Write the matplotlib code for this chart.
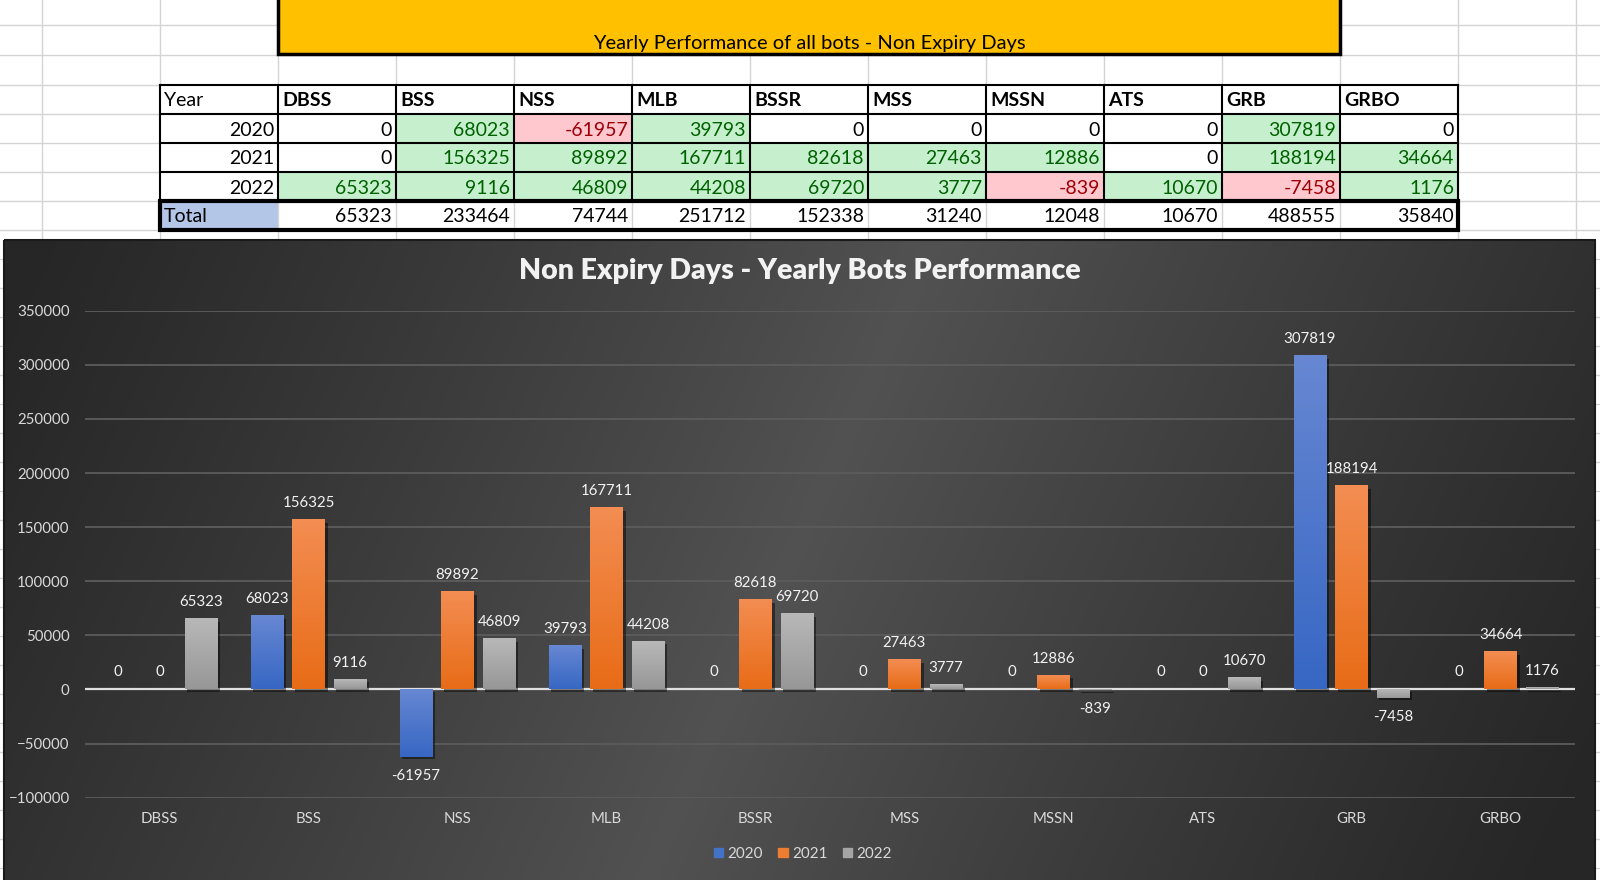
import numpy as np
import matplotlib
matplotlib.use('Agg')
import matplotlib.pyplot as plt
from matplotlib.patches import Rectangle
import matplotlib.patheffects as pe

plt.rcParams['font.family'] = ['Lato', 'DejaVu Sans']

bots = ['DBSS', 'BSS', 'NSS', 'MLB', 'BSSR', 'MSS', 'MSSN', 'ATS', 'GRB', 'GRBO']
years = ['2020', '2021', '2022']
perf_2020 = [0, 68023, -61957, 39793, 0, 0, 0, 0, 307819, 0]
perf_2021 = [0, 156325, 89892, 167711, 82618, 27463, 12886, 0, 188194, 34664]
perf_2022 = [65323, 9116, 46809, 44208, 69720, 3777, -839, 10670, -7458, 1176]
totals = [65323, 233464, 74744, 251712, 152338, 31240, 12048, 10670, 488555, 35840]

series = [perf_2020, perf_2021, perf_2022]
bar_top = ['#6787d2', '#f38d52', '#b8b8b8']
bar_bot = ['#3767c4', '#e86c17', '#979797']
bar_flat = ['#4472c4', '#ed7d31', '#a5a5a5']

fig = plt.figure(figsize=(16, 8.8), dpi=100)

# ===== 背景: 表格区域 (像素坐标) =====
bg = fig.add_axes([0, 0, 1, 1])
bg.set_xlim(0, 1600)
bg.set_ylim(880, 0)
bg.axis('off')

col_edges = [42 + 118 * k for k in range(14)]
row_edges = [25, 55, 85, 114, 143, 172, 201, 230] + list(range(259, 880, 29))
for cx in col_edges:
    bg.plot([cx, cx], [0, 880], color='#d4d4d4', lw=1, zorder=1)
for ry in row_edges:
    bg.plot([0, 1600], [ry, ry], color='#d4d4d4', lw=1, zorder=1)

# 橙色标题框
bg.add_patch(Rectangle((278, -5), 1062, 59, fc='#ffc000', ec='black', lw=2.5, zorder=2))
bg.text(809, 44, 'Yearly Performance of all bots - Non Expiry Days', ha='center', va='center',
        fontsize=14.5, color='black', zorder=3)

tcols = col_edges[1:13]   # 160 .. 1458
trows = [85, 114, 143, 172, 201, 230]
cw = 118
fs_tab = 14

# 表头
bg.text(tcols[0] + 4, 101, 'Year', ha='left', va='center', fontsize=fs_tab, zorder=4)
for j, b in enumerate(bots):
    bg.text(tcols[j + 1] + 4, 101, b, ha='left', va='center', fontsize=fs_tab,
            fontweight='bold', zorder=4)

# 数据行
for i, (yr, vals) in enumerate(zip(years, series)):
    y0 = trows[i + 1]
    bg.add_patch(Rectangle((tcols[0], y0), cw, 29, fc='white', ec='none', zorder=2))
    bg.text(tcols[1] - 4, y0 + 16, yr, ha='right', va='center', fontsize=fs_tab, zorder=4)
    for j, v in enumerate(vals):
        if v > 0:
            fc, tc = '#c6efce', '#006100'
        elif v < 0:
            fc, tc = '#ffc7ce', '#9c0006'
        else:
            fc, tc = 'white', 'black'
        bg.add_patch(Rectangle((tcols[j + 1], y0), cw, 29, fc=fc, ec='none', zorder=2))
        bg.text(tcols[j + 2] - 4, y0 + 16, str(v), ha='right', va='center', fontsize=fs_tab,
                color=tc, zorder=4)

bg.add_patch(Rectangle((tcols[0], 85), cw * 11, 29, fc='white', ec='none', zorder=2))
for ry in trows[:5]:
    bg.plot([tcols[0], tcols[-1]], [ry, ry], color='black', lw=1.5, zorder=3)
for cx in tcols:
    bg.plot([cx, cx], [85, 201], color='black', lw=1.5, zorder=3)

# 合计行
bg.add_patch(Rectangle((tcols[0], 201), cw * 11, 29, fc='white', ec='none', zorder=2))
bg.add_patch(Rectangle((tcols[0], 201), cw, 29, fc='#b4c6e7', ec='none', zorder=2))
for cx in tcols[1:-1]:
    bg.plot([cx, cx], [201, 230], color='#d4d4d4', lw=1, zorder=2.5)
bg.add_patch(Rectangle((tcols[0], 201), cw * 11, 29, fc='none', ec='black', lw=3, zorder=3.5))
bg.text(tcols[0] + 4, 217, 'Total', ha='left', va='center', fontsize=fs_tab, zorder=4)
for j, v in enumerate(totals):
    bg.text(tcols[j + 2] - 4, 217, str(v), ha='right', va='center', fontsize=fs_tab, zorder=4)

# 图表背景渐变
gx = np.linspace(4, 1595, 400)
gy = np.linspace(240, 880, 160)
GX, GY = np.meshgrid(gx, gy)
t = ((GX - 790) + 0.45 * (GY - 560)) / 900
v = 1 - np.clip(np.abs(t), 0, 1)
g = 0.15 + 0.17 * v ** 1.1
bg.imshow(np.dstack([g, g, g]), extent=(4, 1595, 880, 240), aspect='auto', zorder=5,
          interpolation='bilinear')
bg.add_patch(Rectangle((4, 240), 1591, 645, fc='none', ec='#1a1a1a', lw=1.5, zorder=5.5))
bg.set_xlim(0, 1600)
bg.set_ylim(880, 0)

fig.text(800 / 1600, 1 - 271 / 880, 'Non Expiry Days - Yearly Bots Performance',
         ha='center', va='center', fontsize=20.5, fontweight='heavy', color='#f2f2f2')

# ===== 柱状图 =====
ax = fig.add_axes([85 / 1600, (880 - 797.7) / 880, 1490 / 1600, (797.7 - 310.7) / 880])
ax.set_facecolor('none')
x = np.arange(len(bots))
step = 0.279
width = 0.22

ax.set_yticks(np.arange(-100000, 350001, 50000))
ax.yaxis.grid(True, color='#5c5c5c', lw=1.3, zorder=0)
ax.set_axisbelow(True)
ax.axhline(0, color='#e0e0e0', lw=1.6, zorder=1)

for k, vals in enumerate(series):
    pos = x + (k - 1) * step
    bars = ax.bar(pos, vals, width, color=bar_flat[k], edgecolor='none', zorder=2,
                  label=years[k],
                  path_effects=[pe.SimplePatchShadow(offset=(2, -2), shadow_rgbFace='black',
                                                     alpha=0.45), pe.Normal()])
    grad = np.linspace(0, 1, 64)[:, None, None]
    c0 = np.array(matplotlib.colors.to_rgb(bar_top[k]))
    c1 = np.array(matplotlib.colors.to_rgb(bar_bot[k]))
    img = c0 + (c1 - c0) * grad
    for p, val in zip(bars.patches, vals):
        if val == 0:
            continue
        lo, hi = sorted([p.get_y(), p.get_y() + p.get_height()])
        ax.imshow(img, extent=(p.get_x(), p.get_x() + p.get_width(), lo, hi),
                  aspect='auto', origin='upper', zorder=2.1, interpolation='bilinear')
    for xi, val in zip(pos, vals):
        off = -19 if val < 0 else 17
        ax.annotate(str(val), (xi, val), xytext=(0, off), textcoords='offset pixels',
                    ha='center', va='center', fontsize=10.8, color='#f2f2f2', zorder=4)

ax.set_xlim(-0.5, len(bots) - 0.5)
ax.set_ylim(-100000, 350000)
ax.set_xticks(x)
ax.set_xticklabels(bots)
ax.tick_params(axis='y', length=0, colors='#d9d9d9', labelsize=10.8, pad=11)
ax.tick_params(axis='x', length=0, colors='#d9d9d9', labelsize=10.8, pad=10)
for s in ax.spines.values():
    s.set_visible(False)

fig.legend(handles=[Rectangle((0, 0), 1, 1, color=c) for c in bar_flat], labels=years,
           loc='center', bbox_to_anchor=(803 / 1600, 1 - 854 / 880), ncol=3, frameon=False,
           handlelength=0.6, handleheight=0.6, handletextpad=0.3, columnspacing=1.0,
           fontsize=11, labelcolor='#d9d9d9')

fig.savefig('out.png', dpi=100)
